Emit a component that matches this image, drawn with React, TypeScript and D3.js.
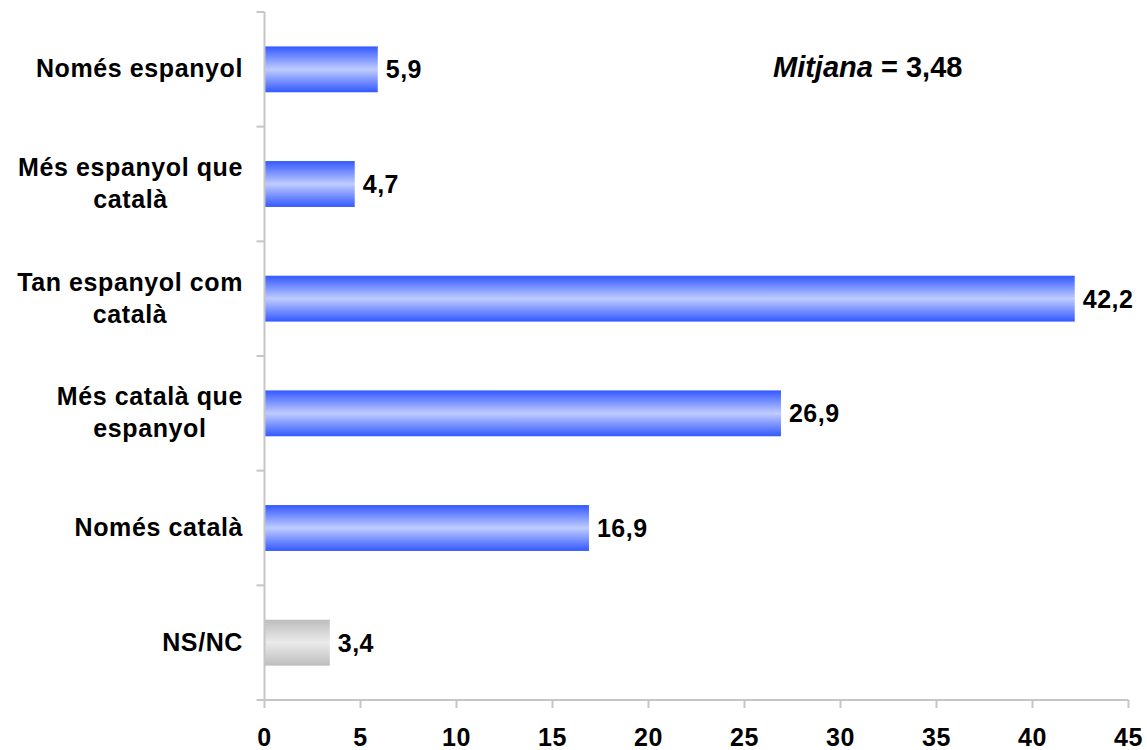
import React, { useEffect, useRef } from "react";
import * as d3 from "d3";

const categories: string[][] = [
  ["Només espanyol"],
  ["Més espanyol que", "català"],
  ["Tan espanyol com", "català"],
  ["Més català que", "espanyol"],
  ["Només català"],
  ["NS/NC"],
];
const values: number[] = [5.9, 4.7, 42.2, 26.9, 16.9, 3.4];
const valueLabels: string[] = ["5,9", "4,7", "42,2", "26,9", "16,9", "3,4"];
const isGray: boolean[] = [false, false, false, false, false, true];
const xTicks: number[] = [0, 5, 10, 15, 20, 25, 30, 35, 40, 45];
const meanLabel = "Mitjana";
const meanValue = "= 3,48";

const W = 1147;
const H = 750;
const FONT = "'Liberation Sans', Arial, sans-serif";

export default function App() {
  const ref = useRef<SVGSVGElement | null>(null);

  useEffect(() => {
    const svg = d3.select(ref.current);
    svg.selectAll("*").remove();

    const x = d3.scaleLinear().domain([0, 45]).range([264.5, 1128.5]);
    const y = d3
      .scaleBand<number>()
      .domain(categories.map((_, i) => i))
      .range([12, 700])
      .padding(0);
    const bw = y.bandwidth();
    const barH = bw * 0.4;

    const defs = svg.append("defs");
    const mk = (id: string, edge: string, mid: string) => {
      const g = defs
        .append("linearGradient")
        .attr("id", id)
        .attr("x1", 0)
        .attr("y1", 0)
        .attr("x2", 0)
        .attr("y2", 1);
      g.append("stop").attr("offset", "0%").attr("stop-color", edge);
      g.append("stop").attr("offset", "50%").attr("stop-color", mid);
      g.append("stop").attr("offset", "100%").attr("stop-color", edge);
    };
    mk("gBlue", "#3358ff", "#bfccff");
    mk("gGray", "#bdbdbd", "#ebebeb");

    const axisColor = "#c6c6c6";

    // bars
    svg
      .append("g")
      .selectAll("rect")
      .data(values)
      .join("rect")
      .attr("x", x(0))
      .attr("y", (_, i) => (y(i) as number) + bw / 2 - barH / 2)
      .attr("width", (d) => x(d) - x(0))
      .attr("height", barH)
      .attr("fill", (_, i) => (isGray[i] ? "url(#gGray)" : "url(#gBlue)"));

    // axes
    const ax = svg.append("g").attr("stroke", axisColor).attr("stroke-width", 2);
    ax.append("line")
      .attr("x1", x(0))
      .attr("x2", x(0))
      .attr("y1", 12)
      .attr("y2", 700);
    ax.append("line")
      .attr("x1", x(0) - 8)
      .attr("x2", x(45))
      .attr("y1", 700)
      .attr("y2", 700);
    const bounds = categories.map((_, i) => y(i) as number);
    ax.selectAll("line.yt")
      .data(bounds)
      .join("line")
      .attr("class", "yt")
      .attr("x1", x(0) - 8)
      .attr("x2", x(0))
      .attr("y1", (d) => d)
      .attr("y2", (d) => d);
    ax.selectAll("line.xt")
      .data(xTicks)
      .join("line")
      .attr("class", "xt")
      .attr("x1", (d) => x(d))
      .attr("x2", (d) => x(d))
      .attr("y1", 700)
      .attr("y2", 708);

    // x tick labels
    svg
      .append("g")
      .selectAll("text")
      .data(xTicks)
      .join("text")
      .attr("x", (d) => x(d))
      .attr("y", 746)
      .attr("text-anchor", "middle")
      .attr("font-family", FONT)
      .attr("font-weight", "bold")
      .attr("font-size", 25)
      .attr("letter-spacing", 0.5)
      .attr("fill", "#000")
      .text((d) => String(d));

    // value labels
    svg
      .append("g")
      .selectAll("text")
      .data(values)
      .join("text")
      .attr("x", (d) => x(d) + 8)
      .attr("y", (_, i) => (y(i) as number) + bw / 2 + 9)
      .attr("font-family", FONT)
      .attr("font-weight", "bold")
      .attr("font-size", 25)
      .attr("letter-spacing", 0.5)
      .attr("fill", "#000")
      .text((_, i) => valueLabels[i]);

    // category labels
    const right = 243;
    const lineH = 32;
    categories.forEach((lines, i) => {
      const c = (y(i) as number) + bw / 2;
      const g = svg.append("g");
      const texts = lines.map((ln, j) =>
        g
          .append("text")
          .attr("y", c + 8 - ((lines.length - 1) * lineH) / 2 + j * lineH)
          .attr("font-family", FONT)
          .attr("font-weight", "bold")
          .attr("font-size", 25)
          .attr("letter-spacing", 0.6)
          .attr("fill", "#000")
          .attr("text-anchor", "middle")
          .text(ln)
      );
      const widths = texts.map((t) => (t.node() as SVGTextElement).getComputedTextLength());
      const maxW = Math.max(...widths);
      texts.forEach((t) => t.attr("x", right - maxW / 2));
    });

    // mean label
    const m = svg
      .append("text")
      .attr("x", 773)
      .attr("y", 77)
      .attr("font-family", FONT)
      .attr("font-weight", "bold")
      .attr("font-size", 29)
      .attr("fill", "#000");
    m.append("tspan").attr("font-style", "italic").text(meanLabel);
    m.append("tspan").text(" " + meanValue);
  }, []);

  return (
    <svg
      ref={ref}
      width={W}
      height={H}
      style={{ position: "absolute", left: 0, top: 0, background: "#fff" }}
    />
  );
}
